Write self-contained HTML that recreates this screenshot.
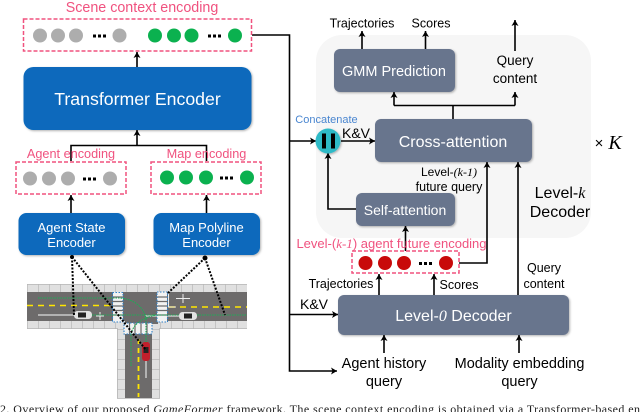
<!DOCTYPE html>
<html><head><meta charset="utf-8"><style>
html,body{margin:0;padding:0;background:#fff;width:640px;height:412px;overflow:hidden}
svg{display:block;filter:blur(.3px)}
text{font-family:"Liberation Sans",sans-serif}
.i{font-family:"Liberation Serif",serif;font-style:italic}
</style></head><body>
<svg width="640" height="412" viewBox="0 0 640 412" xmlns="http://www.w3.org/2000/svg">
<defs>
<marker id="a" markerUnits="userSpaceOnUse" markerWidth="8" markerHeight="8" refX="6" refY="3.500" orient="auto"><path d="M0 0L6 3.500L0 7L1.500 3.500Z" fill="#000"/></marker>
<filter id="s" x="-10%" y="-10%" width="125%" height="125%"><feDropShadow dx="1" dy="1" stdDeviation="1" flood-color="#000" flood-opacity=".3"/></filter>
</defs>
<rect x="316" y="35" width="275" height="203" rx="26" fill="#f6f6f6"/>

<g fill="none" stroke="#000" stroke-width="1.600">
<path d="M252 35H289.500V371H337" marker-end="url(#a)"/>
<path d="M289.500 141H316" marker-end="url(#a)"/>
<path d="M289.500 314.500H338" marker-end="url(#a)"/>
<path d="M137 67V52" marker-end="url(#a)"/>
<path d="M137 145V130" marker-end="url(#a)"/>
<path d="M71 161V145.500H206.500V161"/>
<path d="M71 213V195" marker-end="url(#a)"/>
<path d="M206.500 213V195" marker-end="url(#a)"/>
<path d="M362 49V31" marker-end="url(#a)"/>
<path d="M425.500 49V31" marker-end="url(#a)"/>
<path d="M515 51V20" marker-end="url(#a)"/>
<path d="M453 119V105.500"/>
<path d="M394 105.500H515"/>
<path d="M394 105.500V92" marker-end="url(#a)"/>
<path d="M515 105.500V92" marker-end="url(#a)"/>
<path d="M341 141H375" marker-end="url(#a)"/>
<path d="M356 209H328V153" marker-end="url(#a)"/>
<path d="M405.500 251V226" marker-end="url(#a)"/>
<path d="M459 263H487V162" marker-end="url(#a)"/>
<path d="M518 295V162" marker-end="url(#a)"/>
<path d="M379 295V274" marker-end="url(#a)"/>
<path d="M434 295V274" marker-end="url(#a)"/>
<path d="M384 353V335" marker-end="url(#a)"/>
<path d="M519 353V335" marker-end="url(#a)"/>
</g>

<g fill="none" stroke="#f0527f" stroke-width="1.500" stroke-dasharray="4 2">
<rect x="23.500" y="19" width="228" height="32"/>
<rect x="16" y="162" width="110" height="32"/>
<rect x="151" y="162" width="110" height="32"/>
<rect x="352" y="251" width="107" height="22"/>
</g>

<g fill="#adadad">
<circle cx="40" cy="35.500" r="7"/><circle cx="58" cy="35.500" r="7"/><circle cx="76" cy="35.500" r="7"/><circle cx="119.500" cy="35.500" r="7"/>
<circle cx="30" cy="178.500" r="7"/><circle cx="49" cy="178.500" r="7"/><circle cx="68" cy="178.500" r="7"/><circle cx="110" cy="178.500" r="7"/>
</g>
<g fill="#0bb14f">
<circle cx="155" cy="35.500" r="7"/><circle cx="174" cy="35.500" r="7"/><circle cx="191.500" cy="35.500" r="7"/><circle cx="235" cy="35.500" r="7"/>
<circle cx="167" cy="177.500" r="7"/><circle cx="186" cy="177.500" r="7"/><circle cx="206" cy="177.500" r="7"/><circle cx="247" cy="177.500" r="7"/>
</g>
<g fill="#c80a0a">
<circle cx="365.500" cy="263" r="7"/><circle cx="385" cy="263" r="7"/><circle cx="404" cy="263" r="7"/><circle cx="446" cy="263" r="7"/>
</g>
<g fill="#000">
<rect x="93" y="34.500" width="3" height="3"/><rect x="98" y="34.500" width="3" height="3"/><rect x="103" y="34.500" width="3" height="3"/>
<rect x="208" y="34.500" width="3" height="3"/><rect x="213" y="34.500" width="3" height="3"/><rect x="218" y="34.500" width="3" height="3"/>
<rect x="83" y="177.500" width="3" height="3"/><rect x="88" y="177.500" width="3" height="3"/><rect x="93" y="177.500" width="3" height="3"/>
<rect x="220" y="176.500" width="3" height="3"/><rect x="225" y="176.500" width="3" height="3"/><rect x="230" y="176.500" width="3" height="3"/>
<rect x="419" y="262" width="3" height="3"/><rect x="424" y="262" width="3" height="3"/><rect x="429" y="262" width="3" height="3"/>
</g>

<g filter="url(#s)">
<rect x="23.500" y="67" width="228" height="63" rx="10" fill="#0769bc"/>
<rect x="18.500" y="213" width="106.500" height="42" rx="8" fill="#0769bc"/>
<rect x="153.500" y="213" width="106.500" height="42" rx="8" fill="#0769bc"/>
<rect x="334" y="49" width="121" height="43" rx="6" fill="#68758d"/>
<rect x="375" y="119" width="157" height="43" rx="6" fill="#68758d"/>
<rect x="356" y="193" width="99" height="33" rx="6" fill="#68758d"/>
<rect x="338" y="295" width="231" height="40" rx="6" fill="#68758d"/>
<circle cx="328" cy="141" r="12.500" fill="#2fbac7"/>
</g>
<rect x="322" y="133.500" width="4" height="15" fill="#000"/><rect x="331" y="133.500" width="4" height="15" fill="#000"/>

<g fill="#fff" text-anchor="middle">
<text x="137.500" y="105" font-size="17.700">Transformer Encoder</text>
<text x="71.500" y="232" font-size="13">Agent State</text>
<text x="71.500" y="247" font-size="13">Encoder</text>
<text x="206.500" y="232" font-size="13">Map Polyline</text>
<text x="206.500" y="247" font-size="13">Encoder</text>
<text x="394" y="76" font-size="14.500">GMM Prediction</text>
<text x="453" y="147" font-size="16">Cross-attention</text>
<text x="405" y="215" font-size="14">Self-attention</text>
<text x="453.500" y="321" font-size="16">Level-<tspan class="i">0</tspan> Decoder</text>
</g>

<g fill="#f0527f" text-anchor="middle">
<text x="142" y="12" font-size="14.300">Scene context encoding</text>
<text x="71" y="158" font-size="12.700">Agent encoding</text>
<text x="206.500" y="158" font-size="12.700">Map encoding</text>
<text x="391.500" y="248" font-size="13">Level-(<tspan class="i">k-1</tspan>) agent future encoding</text>
</g>
<text x="326.500" y="123" font-size="11" fill="#4a86d0" text-anchor="middle">Concatenate</text>

<g fill="#000" text-anchor="middle">
<text x="362" y="27.500" font-size="12.500">Trajectories</text>
<text x="431" y="27.500" font-size="12.500">Scores</text>
<text x="515" y="65" font-size="13.500">Query</text>
<text x="515" y="83" font-size="13.500">content</text>
<text x="356" y="138" font-size="14">K&amp;V</text>
<text x="449" y="176" font-size="12">Level-<tspan class="i">(k-1)</tspan></text>
<text x="449" y="191" font-size="12.500">future query</text>
<text x="560" y="198" font-size="16">Level-<tspan class="i">k</tspan></text>
<text x="560" y="217" font-size="16">Decoder</text>
<text x="599" y="148" font-size="15">×</text>
<text x="615" y="149" font-size="20" class="i">K</text>
<text x="341" y="288" font-size="12.500">Trajectories</text>
<text x="459" y="289" font-size="12.500">Scores</text>
<text x="544" y="272" font-size="12.500">Query</text>
<text x="544" y="288" font-size="12.500">content</text>
<text x="314" y="309" font-size="14">K&amp;V</text>
<text x="384" y="368" font-size="14.500">Agent history</text>
<text x="384" y="386" font-size="14.500">query</text>
<text x="519.500" y="368" font-size="14.500">Modality embedding</text>
<text x="519.500" y="386" font-size="14.500">query</text>
</g>

<!-- road scene -->
<g>
<rect x="27" y="284" width="220" height="8" fill="#e0e0e0"/>
<rect x="27" y="321" width="220" height="8" fill="#e0e0e0"/>
<rect x="117" y="329" width="42.500" height="69.500" fill="#e0e0e0"/>
<path d="M27 288H247M27 325H117M160 325H247" stroke="#c4c4c4" stroke-width="8" stroke-dasharray="1 10" fill="none"/>
<path d="M121 329V398M155.700 329V398" stroke="#c4c4c4" stroke-width="8" stroke-dasharray="1 9" fill="none"/>
<path d="M27 284.500H247M27 328.500H117.500V398.500H159.500V328.500H247" stroke="#b5b5b5" stroke-width=".8" fill="none"/>
<rect x="27" y="292" width="220" height="29" fill="#6d6b6b"/>
<rect x="125" y="320" width="27" height="78" fill="#6d6b6b"/>
<rect x="152" y="321" width="6" height="3" fill="#6d6b6b"/>
<path d="M27 305.500H113M169 307H247" stroke="#ffe600" stroke-width="1.600" stroke-dasharray="6 5" fill="none"/>
<path d="M138.500 339V397" stroke="#ffe600" stroke-width="1.800" stroke-dasharray="5 4" fill="none"/>
<path d="M38 315H76M145 316H181M146 361V378" stroke="#c9c9c9" stroke-width="1.500" fill="none"/>
<path d="M168.500 292V307H176M176 298.500H190M183 294V303M100 312V320M96 316H104" stroke="#eee" stroke-width="1" fill="none"/>
<g fill="#f2f2f2">
<rect x="113" y="292" width="10" height="30"/><rect x="157" y="292" width="10" height="30"/><rect x="124" y="323" width="28" height="11"/>
</g>
<path d="M113 297H123M113 301.500H123M113 306H123M113 310.500H123M113 315H123M157 297H167M157 301.500H167M157 306H167M157 310.500H167M157 315H167M129.500 323V334M135 323V334M141 323V334M147 323V334" stroke="#6d6b6b" stroke-width="1.200" fill="none"/>
<g fill="none" stroke="#2f80c8" stroke-width="1.100" stroke-dasharray="1.500 1.500">
<rect x="112.500" y="292.500" width="10.500" height="29.500"/><rect x="157" y="292" width="10.500" height="30"/><rect x="124" y="323" width="28" height="11"/>
</g>
<g fill="none" stroke="#1bae55" stroke-width="1.100" stroke-dasharray="1.500 1">
<path d="M38 298H120Q141 300 146 318V345"/>
<path d="M92 315H247"/>
<path d="M131 366V335Q133 320 156 315"/>
</g>
<rect x="74" y="311" width="18" height="8" rx="3.500" fill="#e2e2e2"/><rect x="78" y="312.500" width="8" height="5" fill="#222"/>
<rect x="179" y="312" width="18" height="8" rx="3.500" fill="#e2e2e2"/><rect x="184" y="313.500" width="8" height="5" fill="#222"/>
<rect x="142" y="342" width="8" height="19" rx="3" fill="#c11f2c"/><rect x="143.500" y="347" width="5" height="6" fill="#222"/>
<g fill="none" stroke="#000" stroke-width="2" stroke-dasharray="2 1.500">
<path d="M72 257L74 315"/><path d="M72 257L146 350"/><path d="M205 258L168 293"/><path d="M205 258L225 315"/>
</g>
<circle cx="72" cy="257" r="2" fill="#000"/><circle cx="205" cy="258" r="2.500" fill="#000"/>
</g>

<text x="0" y="413" font-size="12" style="font-family:'Liberation Serif',serif" fill="#222" textLength="640" lengthAdjust="spacing">2. Overview of our proposed <tspan font-style="italic">GameFormer</tspan> framework. The scene context encoding is obtained via a Transformer-based en</text>
</svg>
</body></html>
